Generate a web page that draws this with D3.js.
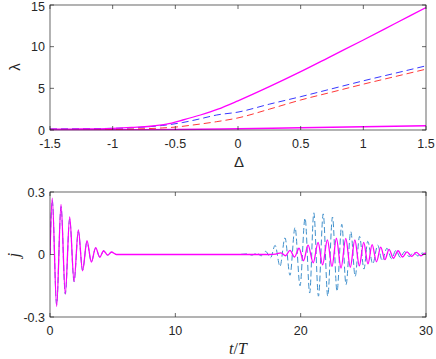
<!DOCTYPE html>
<html>
<head>
<meta charset="utf-8">
<script src="https://cdn.jsdelivr.net/npm/d3@7"></script>
<style>
  body { margin: 0; background: #fff; }
  svg { display: block; }
</style>
</head>
<body>
<svg id="chart" width="436" height="359"></svg>
<script>
// ---------- Top panel data: lambda vs Delta ----------
const deltaUpper = [-1.5, -1.25, -1.0, -0.85, -0.7, -0.57, -0.44, -0.3, -0.16, 0, 0.25, 0.5, 0.75, 1.0, 1.25, 1.5];
const lambdaUpper = [0.1, 0.12, 0.2, 0.32, 0.45, 0.7, 1.2, 1.8, 2.5, 3.5, 5.2, 7.0, 8.9, 10.8, 12.75, 14.7];

const deltaBlue = [-1.5, -1.0, -0.75, -0.6, -0.44, -0.3, -0.17, 0, 0.25, 0.5, 0.75, 1.0, 1.25, 1.5];
const lambdaBlue = [0.12, 0.2, 0.35, 0.55, 0.9, 1.35, 1.8, 2.15, 3.1, 4.0, 4.95, 5.9, 6.8, 7.7];

const deltaRed = [-1.5, -1.0, -0.75, -0.6, -0.5, -0.36, -0.17, 0, 0.25, 0.5, 0.75, 1.0, 1.25, 1.5];
const lambdaRed = [0.08, 0.1, 0.15, 0.25, 0.35, 0.6, 1.0, 1.45, 2.5, 3.6, 4.55, 5.5, 6.4, 7.3];

const deltaLower = [-1.5, -1.0, -0.5, 0, 0.5, 1.0, 1.5];
const lambdaLower = [0.02, 0.03, 0.05, 0.15, 0.27, 0.38, 0.5];

const topXTicks = [-1.5, -1, -0.5, 0, 0.5, 1, 1.5];
const topYTicks = [0, 5, 10, 15];

// ---------- Bottom panel data: j vs t/T (extrema) ----------
const tMagenta = [0, 0.18, 0.53, 0.88, 1.22, 1.57, 1.92, 2.26, 2.6, 2.95, 3.3, 3.64, 3.97, 4.28, 4.6, 4.9, 5.3,
  10, 15, 17.5, 18.0, 18.43, 18.79, 19.15, 19.51, 19.87, 20.23, 20.59, 21.0, 21.39, 21.75, 22.13, 22.5,
  22.85, 23.22, 23.6, 23.96, 24.32, 24.68, 25.03, 25.37, 25.7, 26.05, 26.39, 26.72, 27.05, 27.4, 27.77,
  28.13, 28.49, 28.85, 29.23, 29.6, 29.95, 30];
const jMagenta = [0, 0.27, -0.25, 0.24, -0.19, 0.18, -0.13, 0.118, -0.078, 0.066, -0.036, 0.033, -0.013, 0.018, -0.003, 0.012, 0,
  0, 0, 0, 0.002, 0.008, -0.006, 0.02, -0.012, 0.03, -0.03, 0.045, -0.04, 0.058, -0.05, 0.07, -0.058,
  0.078, -0.065, 0.077, -0.062, 0.07, -0.055, 0.058, -0.045, 0.047, -0.035, 0.035, -0.025, 0.025, -0.018, 0.018,
  -0.012, 0.013, -0.009, 0.01, -0.006, 0.006, 0.005];

const tBlue = [0, 0.18, 0.53, 0.88, 1.22, 1.57, 1.92, 2.26, 2.6, 2.95, 3.3, 3.64, 3.97, 4.28, 4.6, 4.9, 5.3,
  10, 15, 15.8, 16.1, 16.5, 16.85, 17.2, 17.6, 17.96, 18.35, 18.75, 19.15, 19.55, 19.95, 20.35, 20.72,
  21.05, 21.42, 21.8, 22.16, 22.54, 22.9, 23.28, 23.62, 24.0, 24.35, 24.7, 25.05, 25.35, 25.75, 26.15,
  26.5, 26.88, 27.25, 27.6, 27.95, 28.3, 28.65, 29.0, 29.35, 29.7, 30];
const jBlue = [0, 0.26, -0.24, 0.23, -0.19, 0.17, -0.13, 0.11, -0.075, 0.06, -0.035, 0.03, -0.012, 0.016, -0.003, 0.01, 0,
  0, 0, 0.003, -0.003, 0.006, -0.006, 0.015, -0.015, 0.044, -0.057, 0.08, -0.1, 0.13, -0.15, 0.175, -0.185,
  0.2, -0.2, 0.195, -0.2, 0.18, -0.177, 0.145, -0.145, 0.11, -0.105, 0.087, -0.07, 0.063, -0.045, 0.045,
  -0.03, 0.03, -0.02, 0.02, -0.014, 0.014, -0.01, 0.01, -0.007, 0.007, 0];

const botXTicks = [0, 10, 20, 30];
const botYTicks = [-0.3, 0, 0.3];
const botYTickLabels = ["-0.3", "0", "0.3"];

// ---------- Drawing ----------
const svg = d3.select("#chart");
const axisColor = "#262626";
const fontSans = "'Liberation Sans', Arial, Helvetica, sans-serif";
const fontSerif = "'Liberation Serif', 'DejaVu Serif', serif";

function frame(g, x, y, xTicks, yTicks, xFmt, yFmt) {
  const [x0, x1] = x.range();
  const [y0, y1] = y.range(); // y0 bottom, y1 top
  const tl = 4;
  xTicks.forEach(v => {
    const px = x(v);
    g.append("line").attr("x1", px).attr("x2", px).attr("y1", y0).attr("y2", y0 - tl)
      .attr("stroke", axisColor).attr("stroke-width", 0.7);
    g.append("line").attr("x1", px).attr("x2", px).attr("y1", y1).attr("y2", y1 + tl)
      .attr("stroke", axisColor).attr("stroke-width", 0.7);
    g.append("text").attr("x", px).attr("y", y0 + 18).attr("text-anchor", "middle")
      .attr("font-family", fontSans).attr("font-size", 12.5).attr("fill", axisColor).text(xFmt(v));
  });
  yTicks.forEach((v, i) => {
    const py = y(v);
    g.append("line").attr("x1", x0).attr("x2", x0 + tl).attr("y1", py).attr("y2", py)
      .attr("stroke", axisColor).attr("stroke-width", 0.7);
    g.append("line").attr("x1", x1).attr("x2", x1 - tl).attr("y1", py).attr("y2", py)
      .attr("stroke", axisColor).attr("stroke-width", 0.7);
    g.append("text").attr("x", x0 - 5).attr("y", Math.max(py + 4.5, 11)).attr("text-anchor", "end")
      .attr("font-family", fontSans).attr("font-size", 12.5).attr("fill", axisColor).text(yFmt(v, i));
  });
}

function box(g, x, y) {
  const [x0, x1] = x.range();
  const [y0, y1] = y.range();
  g.append("rect").attr("x", x0).attr("y", y1).attr("width", x1 - x0).attr("height", y0 - y1)
    .attr("fill", "none").attr("stroke", axisColor).attr("stroke-width", 0.7);
}

function series(g, xs, ys, x, y, color, width, dash) {
  const pts = xs.map((v, i) => [v, ys[i]]);
  const line = d3.line().x(d => x(d[0])).y(d => y(d[1])).curve(d3.curveMonotoneX);
  const p = g.append("path").attr("d", line(pts)).attr("fill", "none")
    .attr("stroke", color).attr("stroke-width", width);
  if (dash) p.attr("stroke-dasharray", dash);
}

// Top panel
const xTop = d3.scaleLinear().domain([-1.5, 1.5]).range([50, 426]);
const yTop = d3.scaleLinear().domain([0, 15]).range([130, 5]);
const gTop = svg.append("g");
const clipTop = svg.append("clipPath").attr("id", "clipTop");
clipTop.append("rect").attr("x", 50).attr("y", 5).attr("width", 376).attr("height", 125.5);
const gTopData = gTop.append("g").attr("clip-path", "url(#clipTop)");
series(gTopData, deltaLower, lambdaLower, xTop, yTop, "#ff00ff", 1.5, null);
series(gTopData, deltaRed, lambdaRed, xTop, yTop, "#ff2020", 0.9, "7,4");
series(gTopData, deltaBlue, lambdaBlue, xTop, yTop, "#2020ff", 0.9, "7,4");
series(gTopData, deltaUpper, lambdaUpper, xTop, yTop, "#ff00ff", 1.3, null);
box(gTop, xTop, yTop);
frame(gTop, xTop, yTop, topXTicks, topYTicks, v => String(v), v => String(v));
gTop.append("text").attr("x", 239).attr("y", 167).attr("text-anchor", "middle")
  .attr("font-family", fontSans).attr("font-size", 15).attr("fill", axisColor).text("Δ");
gTop.append("text").attr("transform", "translate(20,67) rotate(-90)").attr("text-anchor", "middle")
  .attr("font-family", fontSans).attr("font-size", 15).attr("fill", axisColor).text("λ");

// Bottom panel
const xBot = d3.scaleLinear().domain([0, 30]).range([50, 426]);
const yBot = d3.scaleLinear().domain([-0.3, 0.3]).range([317, 192]);
const gBot = svg.append("g");
const clipBot = svg.append("clipPath").attr("id", "clipBot");
clipBot.append("rect").attr("x", 50).attr("y", 192).attr("width", 376).attr("height", 125);
const gBotData = gBot.append("g").attr("clip-path", "url(#clipBot)");
series(gBotData, tBlue, jBlue, xBot, yBot, "#4090cc", 1.0, "6,3");
series(gBotData, tMagenta, jMagenta, xBot, yBot, "#ff00ff", 1.3, null);
box(gBot, xBot, yBot);
frame(gBot, xBot, yBot, botXTicks, botYTicks, v => String(v), (v, i) => botYTickLabels[i]);
const tl = gBot.append("text").attr("x", 238).attr("y", 354).attr("text-anchor", "middle")
  .attr("font-family", fontSerif).attr("font-size", 16).attr("fill", axisColor);
tl.append("tspan").attr("font-style", "italic").text("t");
tl.append("tspan").text("/");
tl.append("tspan").attr("font-style", "italic").text("T");
gBot.append("text").attr("transform", "translate(19,255) rotate(-90)").attr("text-anchor", "middle")
  .attr("font-family", fontSerif).attr("font-style", "italic").attr("font-size", 16).attr("fill", axisColor).text("j");
</script>
</body>
</html>
